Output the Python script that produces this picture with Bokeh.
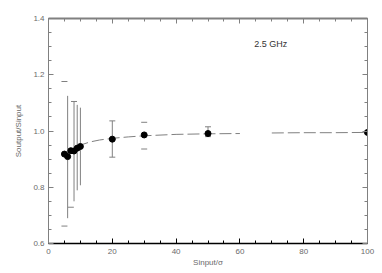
from bokeh.plotting import figure
from bokeh.models import (LinearAxis, Range1d, Label, FixedTicker,
                          CustomJSTickFormatter)
from bokeh.embed import file_html
from bokeh.resources import INLINE

# ---- data ----
x_pts = [5, 6, 7, 8, 9, 10, 20, 30, 50, 100]
y_pts = [0.918, 0.909, 0.930, 0.929, 0.939, 0.945, 0.971, 0.986, 0.991, 0.995]
err_lo = [0.662, 0.690, 0.729, 0.750, 0.789, 0.807, 0.907, 0.936, 0.980, 0.990]
err_hi = [1.176, 1.125, 1.131, 1.105, 1.093, 1.083, 1.036, 1.031, 1.015, 1.000]
bar_idx = [1, 3, 4, 5, 6, 8, 9]          # error bars drawn with a vertical line
cap_top_idx = [0, 3, 6, 7, 8, 9]
cap_bot_idx = [0, 2, 6, 7, 8, 9]

curve_x = [5, 7, 10, 13, 16, 20, 25, 30, 40, 50, 60, float("nan"), 70, 80, 90, 100]
curve_y = [0.908, 0.930, 0.950, 0.961, 0.968, 0.974, 0.979, 0.983, 0.988, 0.990, 0.991,
           float("nan"), 0.993, 0.994, 0.994, 0.995]

x_ticks = [0, 20, 40, 60, 80, 100]
x_minor = [v for v in range(0, 101, 5)]
y_ticks = [0.6, 0.8, 1.0, 1.2, 1.4]
y_tick_labels = ["0.6", "0.8", "1.0", "1.2", "1.4"]
y_minor = [0.65, 0.7, 0.75, 0.85, 0.9, 0.95, 1.05, 1.1, 1.15, 1.25, 1.3, 1.35]
annotation = "2.5 GHz"
x_label = "Sinput/σ"
y_label = "Soutput/Sinput"

FONT = "Liberation Sans"
GRAY = "#808080"
LBL = "#6a6a6a"

p = figure(frame_width=319, frame_height=225,
           x_range=Range1d(0, 100), y_range=Range1d(0.6, 1.4),
           output_backend="svg", toolbar_location=None,
           min_border_left=48, min_border_right=15, min_border_top=18, min_border_bottom=30)
p.xgrid.visible = False
p.ygrid.visible = False
p.outline_line_color = None
p.background_fill_color = "white"
p.border_fill_color = "white"

def style_axis(ax, color, width, labels=True):
    ax.axis_line_color = color
    ax.axis_line_width = width
    ax.major_tick_line_color = color
    ax.minor_tick_line_color = color
    ax.major_tick_in = 5
    ax.major_tick_out = 0
    ax.minor_tick_in = 3
    ax.minor_tick_out = 0
    ax.major_label_text_font = FONT
    ax.major_label_text_font_size = "8px"
    ax.major_label_text_color = LBL
    ax.major_label_standoff = 4
    if not labels:
        ax.formatter = CustomJSTickFormatter(code="return ''")
        ax.major_label_standoff = 0

xa = p.xaxis[0]
xa.ticker = FixedTicker(ticks=x_ticks, minor_ticks=x_minor)
style_axis(xa, "black", 1.5)
xa.major_label_standoff = 5
xa.axis_label = x_label
xa.axis_label_text_font = FONT
xa.axis_label_text_font_size = "8px"
xa.axis_label_text_font_style = "normal"
xa.axis_label_text_color = LBL
xa.axis_label_standoff = 1

ya = p.yaxis[0]
ya.ticker = FixedTicker(ticks=y_ticks, minor_ticks=y_minor)
style_axis(ya, GRAY, 1)
ya.major_label_overrides = {t: s for t, s in zip(y_ticks, y_tick_labels)}
ya.axis_label = y_label
ya.axis_label_text_font = FONT
ya.axis_label_text_font_size = "8px"
ya.axis_label_text_font_style = "normal"
ya.axis_label_text_color = LBL
ya.axis_label_standoff = 7

ra = LinearAxis(ticker=FixedTicker(ticks=y_ticks, minor_ticks=y_minor))
style_axis(ra, GRAY, 1, labels=False)
p.add_layout(ra, "right")
ta = LinearAxis(ticker=FixedTicker(ticks=x_ticks, minor_ticks=x_minor))
style_axis(ta, GRAY, 2, labels=False)
p.add_layout(ta, "above")

# curve
p.line(curve_x, curve_y, line_color=GRAY, line_width=1, line_dash="12 4")

# error bars
p.segment([x_pts[i] for i in bar_idx], [err_lo[i] for i in bar_idx],
          [x_pts[i] for i in bar_idx], [err_hi[i] for i in bar_idx],
          line_color=GRAY, line_width=1)
p.scatter([x_pts[i] for i in cap_top_idx], [err_hi[i] for i in cap_top_idx],
          marker="dash", size=6, line_color=GRAY, line_width=1)
p.scatter([x_pts[i] for i in cap_bot_idx], [err_lo[i] for i in cap_bot_idx],
          marker="dash", size=6, line_color=GRAY, line_width=1)

# points
p.scatter(x_pts, y_pts, marker="circle", size=6, fill_color="black", line_color="black")

p.add_layout(Label(x=69.7, y=1.308, text=annotation, text_align="center",
                   text_baseline="middle", text_font=FONT, text_font_size="9px",
                   text_color="#333333"))

open("out.html", "w").write(file_html(p, INLINE))
